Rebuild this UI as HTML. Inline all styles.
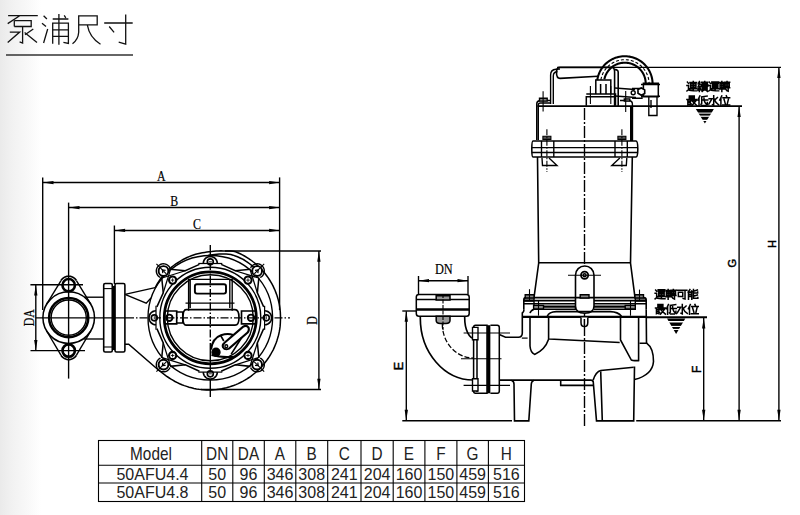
<!DOCTYPE html>
<html><head><meta charset="utf-8">
<style>
html,body{margin:0;padding:0;width:800px;height:515px;overflow:hidden;background:#fff;}
body{font-family:"Liberation Sans",sans-serif;}
#bg{position:absolute;left:0;top:0;width:800px;height:515px;background:linear-gradient(to right,#eaeaea 0px,#f2f2f2 13px,#f8f8f8 27px,#fcfcfc 35px,#fff 41px,#fff 100%);}
svg{position:absolute;left:0;top:0;}
svg text{font-family:"Liberation Sans",sans-serif;}
</style></head><body>
<div id="bg"></div>
<svg width="800" height="515" viewBox="0 0 800 515">
<!-- TITLE -->
<g id="title" fill="none" stroke="#111" stroke-width="1.3" stroke-linecap="butt">
  <!-- 泵 -->
  <path d="M8.1 15.6H37.8 M19.7 15.8L7.7 23.6 M14.3 20.7V26.5 M14.3 20.7H31.2V26.5H14.3 M22.6 26.5V43L19.6 41.8 M9.8 32.1H19.7L7.7 42.6 M33.3 29L25 34.8 M24.6 32.4L37 42.6"/>
  <!-- 浦 -->
  <path d="M43.6 15.8L46.9 19 M42 23.2L46 26.5 M43.6 43L47.7 29 M52.7 19H68.4 M64.2 15.4L65.8 17.8 M52.7 43.8V23.2H68.4V43.4L63.4 42.4 M52.7 29.8H68.4 M52.7 36.4H68.4 M58.9 14.1V44.7"/>
  <!-- 尺 -->
  <path d="M78.7 24.9H97.2V15.8H78.7V32.3Q78.2 39.5 72.5 43.8 M87.3 24.9Q89.5 37.5 100.5 44.2"/>
  <!-- 寸 -->
  <path d="M104.2 23H132.7 M125.7 14.5V44.2L118.7 42.2 M109.2 26.5L114.1 32.3"/>
</g>
<line x1="6" y1="55" x2="133" y2="55" stroke="#333" stroke-width="1.6"/>

<!-- TABLE -->
<g id="table" stroke="#000" stroke-width="1.1" fill="none">
  <rect x="98.5" y="440.5" width="426" height="61"/>
  <line x1="98" y1="465.3" x2="525" y2="465.3"/>
  <line x1="98" y1="483" x2="525" y2="483"/>
  <line x1="201.7" y1="440" x2="201.7" y2="502"/>
  <line x1="232.8" y1="440" x2="232.8" y2="502"/>
  <line x1="264.3" y1="440" x2="264.3" y2="502"/>
  <line x1="295.8" y1="440" x2="295.8" y2="502"/>
  <line x1="327.7" y1="440" x2="327.7" y2="502"/>
  <line x1="361" y1="440" x2="361" y2="502"/>
  <line x1="393.2" y1="440" x2="393.2" y2="502"/>
  <line x1="424.9" y1="440" x2="424.9" y2="502"/>
  <line x1="456.9" y1="440" x2="456.9" y2="502"/>
  <line x1="488.4" y1="440" x2="488.4" y2="502"/>
</g>
<g id="tabletext" fill="#222" font-family="Liberation Sans" font-size="16" text-anchor="middle">
  <text x="151.0" y="459.6" transform="translate(151.0 459.6) scale(0.96 1.1) translate(-151.0 -459.6)">Model</text>
  <text x="217.2" y="459.6" transform="translate(217.2 459.6) scale(0.96 1.1) translate(-217.2 -459.6)">DN</text>
  <text x="248.5" y="459.6" transform="translate(248.5 459.6) scale(0.96 1.1) translate(-248.5 -459.6)">DA</text>
  <text x="280.0" y="459.6" transform="translate(280.0 459.6) scale(0.96 1.1) translate(-280.0 -459.6)">A</text>
  <text x="311.7" y="459.6" transform="translate(311.7 459.6) scale(0.96 1.1) translate(-311.7 -459.6)">B</text>
  <text x="344.3" y="459.6" transform="translate(344.3 459.6) scale(0.96 1.1) translate(-344.3 -459.6)">C</text>
  <text x="377.1" y="459.6" transform="translate(377.1 459.6) scale(0.96 1.1) translate(-377.1 -459.6)">D</text>
  <text x="409.0" y="459.6" transform="translate(409.0 459.6) scale(0.96 1.1) translate(-409.0 -459.6)">E</text>
  <text x="440.9" y="459.6" transform="translate(440.9 459.6) scale(0.96 1.1) translate(-440.9 -459.6)">F</text>
  <text x="472.6" y="459.6" transform="translate(472.6 459.6) scale(0.96 1.1) translate(-472.6 -459.6)">G</text>
  <text x="506.4" y="459.6" transform="translate(506.4 459.6) scale(0.96 1.1) translate(-506.4 -459.6)">H</text>

  <text x="152.5" y="479.9">50AFU4.4</text>
  <text x="217.2" y="479.9">50</text>
  <text x="248.5" y="479.9">96</text>
  <text x="280" y="479.9">346</text>
  <text x="311.7" y="479.9">308</text>
  <text x="344.3" y="479.9">241</text>
  <text x="377.1" y="479.9">204</text>
  <text x="409" y="479.9">160</text>
  <text x="440.9" y="479.9">150</text>
  <text x="472.6" y="479.9">459</text>
  <text x="506.4" y="479.9">516</text>

  <text x="152.5" y="497.9">50AFU4.8</text>
  <text x="217.2" y="497.9">50</text>
  <text x="248.5" y="497.9">96</text>
  <text x="280" y="497.9">346</text>
  <text x="311.7" y="497.9">308</text>
  <text x="344.3" y="497.9">241</text>
  <text x="377.1" y="497.9">204</text>
  <text x="409" y="497.9">160</text>
  <text x="440.9" y="497.9">150</text>
  <text x="472.6" y="497.9">459</text>
  <text x="506.4" y="497.9">516</text>
</g>

<g id="left" fill="none" stroke="#000" stroke-width="1.38"><line x1="42.7" y1="177.5" x2="42.7" y2="310" stroke-width="1.38" /><line x1="279.6" y1="177.4" x2="279.6" y2="310" stroke-width="1.38" /><line x1="68.6" y1="202.6" x2="68.6" y2="378.6" stroke-width="1.38" /><line x1="114.4" y1="225.5" x2="114.4" y2="284" stroke-width="1.38" /><line x1="43" y1="182.5" x2="279.6" y2="182.5" stroke-width="1.38" /><path d="M43 182.6L53.5 180.95L53.5 184.25Z" fill="#000" stroke="none"/><path d="M279.6 182.6L269.1 184.25L269.1 180.95Z" fill="#000" stroke="none"/><line x1="69" y1="207.5" x2="279.6" y2="207.5" stroke-width="1.38" /><path d="M69 207.6L79.5 205.95L79.5 209.25Z" fill="#000" stroke="none"/><path d="M279.6 207.6L269.1 209.25L269.1 205.95Z" fill="#000" stroke="none"/><line x1="114.6" y1="230.5" x2="279.6" y2="230.5" stroke-width="1.38" /><path d="M114.6 230.4L125.1 228.75L125.1 232.05Z" fill="#000" stroke="none"/><path d="M279.6 230.4L269.1 232.05L269.1 228.75Z" fill="#000" stroke="none"/><line x1="225" y1="251" x2="321" y2="251" stroke-width="1.38" /><line x1="201" y1="389.5" x2="321" y2="389.5" stroke-width="1.38" /><line x1="318.9" y1="251" x2="318.9" y2="389.5" stroke-width="1.38" /><path d="M318.9 251.3L320.55 261.8L317.25 261.8Z" fill="#000" stroke="none"/><path d="M318.9 389.2L317.25 378.7L320.55 378.7Z" fill="#000" stroke="none"/><line x1="30.4" y1="284.7" x2="83" y2="284.7" stroke-width="1.38" /><line x1="30.5" y1="350.6" x2="85" y2="350.6" stroke-width="1.38" /><line x1="35.8" y1="285" x2="35.8" y2="350.4" stroke-width="1.38" /><path d="M35.8 285L37.45 295.5L34.15 295.5Z" fill="#000" stroke="none"/><path d="M35.8 350.4L34.15 339.9L37.45 339.9Z" fill="#000" stroke="none"/><line x1="35.8" y1="317.9" x2="126" y2="317.9" stroke-width="1.38" /><line x1="126" y1="317.9" x2="290" y2="317.9" stroke-width="1.38" stroke-dasharray="8 2 1.5 2"/><line x1="210.3" y1="245" x2="210.3" y2="262" stroke-width="1.38" /><line x1="210.3" y1="262" x2="210.3" y2="348" stroke-width="1.38" stroke-dasharray="8 2 1.5 2"/><line x1="210.3" y1="348" x2="210.3" y2="397" stroke-width="1.38" /><line x1="46.64" y1="304.22" x2="61" y2="280.53" stroke-width="1.38" /><line x1="90.76" y1="304.22" x2="76.4" y2="280.53" stroke-width="1.38" /><path d="M61 280.53 L61.71 279.53 L62.55 278.63 L63.5 277.85 L64.55 277.21 L65.68 276.72 L66.87 276.39 L68.09 276.22 L69.31 276.22 L70.53 276.39 L71.72 276.72 L72.85 277.21 L73.9 277.85 L74.85 278.63 L75.69 279.53 L76.4 280.53" stroke-width="1.66"/><circle cx="68.7" cy="285.2" r="6.2" stroke-width="2.62" fill="none" /><line x1="46.49" y1="330.73" x2="60.95" y2="355.18" stroke-width="1.38" /><line x1="90.91" y1="330.73" x2="76.45" y2="355.18" stroke-width="1.38" /><path d="M60.95 355.18 L61.66 356.21 L62.5 357.12 L63.46 357.91 L64.51 358.57 L65.65 359.07 L66.85 359.41 L68.08 359.58 L69.32 359.58 L70.55 359.41 L71.75 359.07 L72.89 358.57 L73.94 357.91 L74.9 357.12 L75.74 356.21 L76.45 355.18" stroke-width="1.66"/><circle cx="68.7" cy="350.6" r="6.2" stroke-width="2.62" fill="none" /><circle cx="68.7" cy="317.6" r="25.8" stroke-width="1.52" fill="none" /><circle cx="68.7" cy="317.6" r="19.6" stroke-width="2.48" fill="none" /><circle cx="68.7" cy="317.6" r="17.6" stroke-width="1.38" fill="none" /><line x1="84" y1="297.2" x2="103.5" y2="297.2" stroke-width="1.38" /><line x1="84" y1="339" x2="103.5" y2="339" stroke-width="1.38" /><rect x="103.7" y="283.5" width="8.6" height="68.5" rx="1.5" stroke-width="1.59"/><line x1="103.5" y1="288.6" x2="112" y2="288.6" stroke-width="1.1" /><line x1="103.5" y1="347" x2="112" y2="347" stroke-width="1.1" /><line x1="113.6" y1="286" x2="113.6" y2="350" stroke-width="3.31" /><rect x="115" y="283.5" width="9.9" height="68.5" rx="1.5" stroke-width="1.59"/><path d="M125 294.4L155.1 287.6 M125.5 294.6L146.2 303.2L151 298"/><path d="M155.4 287.3 L156.4 285.4 L157.5 283.5 L158.7 281.6 L159.9 279.8 L161.2 278.0 L162.6 276.3 L164.0 274.6 L165.5 273.0 L167.0 271.4 L168.6 269.8 L170.2 268.3 L171.9 266.9 L173.7 265.5 L175.5 264.2 L177.4 263.0 L179.2 261.8 L181.2 260.6 L183.1 259.5 L185.1 258.5 L187.1 257.5 L189.2 256.6 L191.3 255.8 L193.5 255.0 L195.6 254.3 L197.8 253.7 L200.1 253.2 L202.3 252.8 L204.6 252.4 L206.9 252.1 L209.1 251.8 L211.5 251.6 L213.8 251.3 L216.1 251.1 L218.5 250.9 L220.9 250.8 L223.3 250.9 L225.7 250.9 L228.2 250.9 L230.7 251.0 L233.2 251.3 L235.6 251.8 L237.9 252.7 L240.2 253.7 L242.4 254.8 L244.5 256.0 L246.7 257.3 L248.7 258.6 L250.8 260.0 L252.7 261.5 L254.7 263.0 L256.5 264.6 L258.3 266.3 L260.1 268.0 L261.8 269.8 L263.4 271.6 L265.0 273.5 L266.5 275.5 L267.9 277.4 L269.3 279.5 L270.6 281.6 L271.8 283.7 L273.0 285.9 L274.0 288.1 L275.0 290.3 L275.9 292.6 L276.8 294.9 L277.5 297.3 L278.2 299.6 L278.8 302.0 L279.3 304.4 L279.7 306.8 L280.0 309.2 L280.3 311.7 L280.4 314.1 L280.5 316.6 L280.5 319.0 L280.4 321.5 L280.3 323.9 L280.1 326.4 L279.8 328.8 L279.4 331.2 L278.9 333.6 L278.3 336.0 L277.6 338.4 L276.9 340.7 L276.1 343.1 L275.2 345.3 L274.2 347.6 L273.2 349.8 L272.0 352.0 L270.8 354.2 L269.5 356.3 L268.2 358.3 L266.8 360.3 L265.3 362.3 L263.7 364.2 L262.1 366.1 L260.4 367.9 L258.6 369.6 L256.8 371.3 L255.0 373.0 L253.1 374.5 L251.1 376.1 L249.1 377.5 L247.0 378.9 L244.9 380.2 L242.7 381.4 L240.5 382.5 L238.2 383.6 L235.9 384.6 L233.6 385.5 L231.3 386.3 L228.9 387.1 L226.5 387.8 L224.0 388.3 L221.6 388.8 L219.1 389.2 L216.6 389.6 L214.1 389.8 L211.6 390.0 L209.0 390.0 L206.5 390.0 L204.0 389.8 L201.5 389.6 L199.0 389.3 L196.5 388.9 L194.0 388.4 L191.5 387.8 L189.1 387.2 L186.7 386.4 L184.3 385.6 L181.9 384.7 L179.6 383.7 L177.3 382.6 L175.0 381.5 L172.8 380.2 L170.6 378.9 L168.5 377.5 L166.4 376.1 L158.4 370 L128.7 344.3 L125 344.3" stroke-width="1.52"/><circle cx="210.3" cy="317.8" r="62.3" stroke-width="1.38" fill="none" /><path d="M208.13 255.54 L210.3 255.08 L212.5 254.71 L214.73 254.4 L216.99 254.18 L219.26 254.04 L221.55 253.98 L223.87 253.98 L226.19 254.05 L228.53 254.21 L230.88 254.46 L233.1 255.15 L235.3 255.93 L237.47 256.78 L239.61 257.7 L241.72 258.7 L243.8 259.78 L245.77 261.04 L247.69 262.37 L249.56 263.76 L251.39 265.21 L253.15 266.73 L254.86 268.31" stroke-width="1.52"/><circle cx="210.3" cy="317.8" r="50.5" stroke-width="1.38" fill="none" /><circle cx="210.3" cy="317.8" r="46" stroke-width="2.76" fill="none" /><circle cx="210.3" cy="317.8" r="43" stroke-width="1.38" fill="none" /><path d="M258.87 358.04L257.36 342.82L263.71 328.67" stroke-width="1.52"/><path d="M250.54 366.37L235.32 364.86L221.17 371.21" stroke-width="1.52"/><line x1="250.34" y1="365.2" x2="257.36" y2="342.82" stroke-width="1.24" /><line x1="257.7" y1="357.84" x2="235.32" y2="364.86" stroke-width="1.24" /><path d="M170.06 366.37L185.28 364.86L199.43 371.21" stroke-width="1.52"/><path d="M161.73 358.04L163.24 342.82L156.89 328.67" stroke-width="1.52"/><line x1="162.9" y1="357.84" x2="185.28" y2="364.86" stroke-width="1.24" /><line x1="170.26" y1="365.2" x2="163.24" y2="342.82" stroke-width="1.24" /><path d="M161.73 277.56L163.24 292.78L156.89 306.93" stroke-width="1.52"/><path d="M170.06 269.23L185.28 270.74L199.43 264.39" stroke-width="1.52"/><line x1="170.26" y1="270.4" x2="163.24" y2="292.78" stroke-width="1.24" /><line x1="162.9" y1="277.76" x2="185.28" y2="270.74" stroke-width="1.24" /><path d="M250.54 269.23L235.32 270.74L221.17 264.39" stroke-width="1.52"/><path d="M258.87 277.56L257.36 292.78L263.71 306.93" stroke-width="1.52"/><line x1="257.7" y1="277.76" x2="235.32" y2="270.74" stroke-width="1.24" /><line x1="250.34" y1="270.4" x2="257.36" y2="292.78" stroke-width="1.24" /><path d="M260.15 358.09 L261.2 358.68 L262.12 359.44 L262.91 360.35 L263.54 361.37 L263.99 362.48 L264.25 363.66 L264.31 364.86 L264.17 366.05 L263.83 367.2 L263.3 368.28 L262.61 369.26 L261.76 370.11 L260.78 370.8 L259.7 371.33 L258.55 371.67 L257.36 371.81 L256.16 371.75 L254.98 371.49 L253.87 371.04 L252.85 370.41 L251.94 369.62 L251.18 368.7 L250.59 367.65" stroke-width="1.38"/><circle cx="257.11" cy="364.61" r="4.9" stroke-width="1.93" fill="#fff" /><line x1="254.28" y1="361.78" x2="264.18" y2="371.68" stroke-width="1.1" /><path d="M255.11 363.61L257.11 366.11L259.11 363.61" stroke-width="1.24" transform="rotate(-45 257.11 364.61)"/><path d="M170.01 367.65 L169.42 368.7 L168.66 369.62 L167.75 370.41 L166.73 371.04 L165.62 371.49 L164.44 371.75 L163.24 371.81 L162.05 371.67 L160.9 371.33 L159.82 370.8 L158.84 370.11 L157.99 369.26 L157.3 368.28 L156.77 367.2 L156.43 366.05 L156.29 364.86 L156.35 363.66 L156.61 362.48 L157.06 361.37 L157.69 360.35 L158.48 359.44 L159.4 358.68 L160.45 358.09" stroke-width="1.38"/><circle cx="163.49" cy="364.61" r="4.9" stroke-width="1.93" fill="#fff" /><line x1="166.32" y1="361.78" x2="156.42" y2="371.68" stroke-width="1.1" /><path d="M161.49 363.61L163.49 366.11L165.49 363.61" stroke-width="1.24" transform="rotate(45 163.49 364.61)"/><path d="M160.45 277.51 L159.4 276.92 L158.48 276.16 L157.69 275.25 L157.06 274.23 L156.61 273.12 L156.35 271.94 L156.29 270.74 L156.43 269.55 L156.77 268.4 L157.3 267.32 L157.99 266.34 L158.84 265.49 L159.82 264.8 L160.9 264.27 L162.05 263.93 L163.24 263.79 L164.44 263.85 L165.62 264.11 L166.73 264.56 L167.75 265.19 L168.66 265.98 L169.42 266.9 L170.01 267.95" stroke-width="1.38"/><circle cx="163.49" cy="270.99" r="4.9" stroke-width="1.93" fill="#fff" /><line x1="166.32" y1="273.82" x2="156.42" y2="263.92" stroke-width="1.1" /><path d="M161.49 269.99L163.49 272.49L165.49 269.99" stroke-width="1.24" transform="rotate(135 163.49 270.99)"/><path d="M250.59 267.95 L251.18 266.9 L251.94 265.98 L252.85 265.19 L253.87 264.56 L254.98 264.11 L256.16 263.85 L257.36 263.79 L258.55 263.93 L259.7 264.27 L260.78 264.8 L261.76 265.49 L262.61 266.34 L263.3 267.32 L263.83 268.4 L264.17 269.55 L264.31 270.74 L264.25 271.94 L263.99 273.12 L263.54 274.23 L262.91 275.25 L262.12 276.16 L261.2 276.92 L260.15 277.51" stroke-width="1.38"/><circle cx="257.11" cy="270.99" r="4.9" stroke-width="1.93" fill="#fff" /><line x1="254.28" y1="273.82" x2="264.18" y2="263.92" stroke-width="1.1" /><path d="M255.11 269.99L257.11 272.49L259.11 269.99" stroke-width="1.24" transform="rotate(225 257.11 270.99)"/><circle cx="247.99" cy="355.49" r="3.6" stroke-width="2.07" fill="#fff" /><line x1="246.19" y1="355.49" x2="249.79" y2="355.49" stroke-width="0.83" /><line x1="247.99" y1="353.69" x2="247.99" y2="357.29" stroke-width="0.83" /><circle cx="172.61" cy="355.49" r="3.6" stroke-width="2.07" fill="#fff" /><line x1="170.81" y1="355.49" x2="174.41" y2="355.49" stroke-width="0.83" /><line x1="172.61" y1="353.69" x2="172.61" y2="357.29" stroke-width="0.83" /><circle cx="172.61" cy="280.11" r="3.6" stroke-width="2.07" fill="#fff" /><line x1="170.81" y1="280.11" x2="174.41" y2="280.11" stroke-width="0.83" /><line x1="172.61" y1="278.31" x2="172.61" y2="281.91" stroke-width="0.83" /><circle cx="247.99" cy="280.11" r="3.6" stroke-width="2.07" fill="#fff" /><line x1="246.19" y1="280.11" x2="249.79" y2="280.11" stroke-width="0.83" /><line x1="247.99" y1="278.31" x2="247.99" y2="281.91" stroke-width="0.83" /><path d="M264.6 310.8 L266.28 311 L267.85 311.6 L269.24 312.56 L270.36 313.82 L271.15 315.32 L271.55 316.96 L271.55 318.64 L271.15 320.28 L270.36 321.78 L269.24 323.04 L267.85 324 L266.28 324.6 L264.6 324.8" stroke-width="1.66" fill="#fff"/><line x1="264.6" y1="305.8" x2="264.6" y2="329.8" stroke-width="1.24" /><circle cx="266.3" cy="317.8" r="3" stroke-width="1.66" fill="none" /><line x1="266.3" y1="316.2" x2="266.3" y2="319.4" stroke-width="0.83" /><path d="M217.3 372.1 L217.1 373.78 L216.5 375.35 L215.54 376.74 L214.28 377.86 L212.78 378.65 L211.14 379.05 L209.46 379.05 L207.82 378.65 L206.32 377.86 L205.06 376.74 L204.1 375.35 L203.5 373.78 L203.3 372.1" stroke-width="1.66" fill="#fff"/><line x1="222.3" y1="372.1" x2="198.3" y2="372.1" stroke-width="1.24" /><circle cx="210.3" cy="373.8" r="3" stroke-width="1.66" fill="none" /><line x1="211.9" y1="373.8" x2="208.7" y2="373.8" stroke-width="0.83" /><path d="M156 324.8 L154.32 324.6 L152.75 324 L151.36 323.04 L150.24 321.78 L149.45 320.28 L149.05 318.64 L149.05 316.96 L149.45 315.32 L150.24 313.82 L151.36 312.56 L152.75 311.6 L154.32 311 L156 310.8" stroke-width="1.66" fill="#fff"/><line x1="156" y1="329.8" x2="156" y2="305.8" stroke-width="1.24" /><circle cx="154.3" cy="317.8" r="3" stroke-width="1.66" fill="none" /><line x1="154.3" y1="319.4" x2="154.3" y2="316.2" stroke-width="0.83" /><path d="M203.3 263.5 L203.5 261.82 L204.1 260.25 L205.06 258.86 L206.32 257.74 L207.82 256.95 L209.46 256.55 L211.14 256.55 L212.78 256.95 L214.28 257.74 L215.54 258.86 L216.5 260.25 L217.1 261.82 L217.3 263.5" stroke-width="1.66" fill="#fff"/><line x1="198.3" y1="263.5" x2="222.3" y2="263.5" stroke-width="1.24" /><circle cx="210.3" cy="261.8" r="3" stroke-width="1.66" fill="none" /><line x1="208.7" y1="261.8" x2="211.9" y2="261.8" stroke-width="0.83" /><circle cx="169.3" cy="317.8" r="3.2" stroke-width="1.93" fill="none" /><circle cx="251" cy="317.8" r="3.2" stroke-width="1.93" fill="none" /><path d="M188.6 310.7V279.4H232.2V310.7 M190.2 280V308 M229.8 280V308" /><rect x="194.9" y="284.3" width="31.1" height="9.3" rx="2" stroke-width="1.93"/><line x1="185.5" y1="303.2" x2="234.5" y2="303.2" stroke-width="1.24" /><path d="M164.5 311H176.7V323.8H164.5 M176.7 312H182.8V323H176.7 M186 309.6H235Q239 309.6 239 317.5Q239 325.2 235 325.2H186Q183 325.2 183 317.5Q183 309.6 186 309.6Z M241.5 311H256V323.8H241.5Z" stroke-width="1.66"/><path d="M211 349.7Q212.5 338 221 335.2Q228 333 233 335 M211.5 355Q222 358 233.8 356.7" stroke-width="2.07"/><path d="M224.5 342.8L243.2 326.6Q246.5 324.6 248.6 327.6Q249.5 330.5 247.6 332.6L229 348.6Q225 350.5 223 347.2Q222 344.5 224.5 342.8Z" stroke-width="2.07" fill="#fff"/><circle cx="226.3" cy="346.2" r="1.4" stroke-width="1.38" fill="none" /><circle cx="216" cy="352.3" r="4" stroke-width="1.38" fill="#000" /><path d="M241.7 337.5L231.2 354.1 M220.7 335.7L223.8 341" stroke-width="1.66"/></g>
<g><text transform="translate(161.2 176) rotate(0) scale(0.82 1)" x="0" y="0" font-family="Liberation Serif" font-size="14.5" text-anchor="middle" dominant-baseline="central" fill="#000" stroke="#000" stroke-width="0.2" style="font-family:'Liberation Serif',serif">A</text><text transform="translate(174.3 200.6) rotate(0) scale(0.82 1)" x="0" y="0" font-family="Liberation Serif" font-size="14.5" text-anchor="middle" dominant-baseline="central" fill="#000" stroke="#000" stroke-width="0.2" style="font-family:'Liberation Serif',serif">B</text><text transform="translate(197 224) rotate(0) scale(0.82 1)" x="0" y="0" font-family="Liberation Serif" font-size="14.5" text-anchor="middle" dominant-baseline="central" fill="#000" stroke="#000" stroke-width="0.2" style="font-family:'Liberation Serif',serif">C</text><text transform="translate(311.7 320.5) rotate(-90) scale(0.85 1)" x="0" y="0" font-family="Liberation Serif" font-size="14" text-anchor="middle" dominant-baseline="central" fill="#000" stroke="#000" stroke-width="0.2" style="font-family:'Liberation Serif',serif">D</text><text transform="translate(28.6 317.8) rotate(-90) scale(0.82 1)" x="0" y="0" font-family="Liberation Serif" font-size="14.5" text-anchor="middle" dominant-baseline="central" fill="#000" stroke="#000" stroke-width="0.2" style="font-family:'Liberation Serif',serif">DA</text></g>
<g id="right" fill="none" stroke="#000" stroke-width="1.38"><line x1="557" y1="67.4" x2="781" y2="67.4" stroke-width="1.38" /><line x1="537.5" y1="106.1" x2="742" y2="106.1" stroke-width="1.66" /><line x1="402.3" y1="311" x2="416.8" y2="311" stroke-width="1.38" /><line x1="646" y1="317.2" x2="707" y2="317.2" stroke-width="1.93" /><line x1="406.3" y1="311.2" x2="406.3" y2="420.2" stroke-width="1.38" /><path d="M406.3 311.2L407.95 321.7L404.65 321.7Z" fill="#000" stroke="none"/><path d="M406.3 420.2L404.65 409.7L407.95 409.7Z" fill="#000" stroke="none"/><line x1="703.7" y1="318" x2="703.7" y2="420.2" stroke-width="1.38" /><path d="M703.7 318L705.35 328.5L702.05 328.5Z" fill="#000" stroke="none"/><path d="M703.7 420.2L702.05 409.7L705.35 409.7Z" fill="#000" stroke="none"/><line x1="739.1" y1="106.6" x2="739.1" y2="420.2" stroke-width="1.38" /><path d="M739.1 106.6L740.75 117.1L737.45 117.1Z" fill="#000" stroke="none"/><path d="M739.1 420.2L737.45 409.7L740.75 409.7Z" fill="#000" stroke="none"/><line x1="778.9" y1="67.6" x2="778.9" y2="420.2" stroke-width="1.38" /><path d="M778.9 67.6L780.55 78.1L777.25 78.1Z" fill="#000" stroke="none"/><path d="M778.9 420.2L777.25 409.7L780.55 409.7Z" fill="#000" stroke="none"/><line x1="418.5" y1="276" x2="418.5" y2="294" stroke-width="1.38" /><line x1="468" y1="276" x2="468" y2="294" stroke-width="1.38" /><line x1="418.5" y1="280.7" x2="468" y2="280.7" stroke-width="1.38" /><path d="M418.5 280.7L429 279.05L429 282.35Z" fill="#000" stroke="none"/><path d="M468 280.7L457.5 282.35L457.5 279.05Z" fill="#000" stroke="none"/><path d="M695.8 109.1H713.9L704.9 123.4Z" fill="#000" stroke="none"/><rect x="694.8" y="112.6" width="20.1" height="1" fill="#fff" stroke="none"/><rect x="694.8" y="115.6" width="20.1" height="1.2" fill="#fff" stroke="none"/><rect x="694.8" y="119.8" width="20.1" height="1.2" fill="#fff" stroke="none"/><path d="M667 318.6H685.3L676.1 333.9Z" fill="#000" stroke="none"/><rect x="666" y="321" width="20.3" height="1.5" fill="#fff" stroke="none"/><rect x="666" y="325.9" width="20.3" height="1.1" fill="#fff" stroke="none"/><rect x="666" y="328.9" width="20.3" height="1.1" fill="#fff" stroke="none"/><line x1="584.5" y1="108" x2="584.5" y2="428" stroke-width="1.38" stroke-dasharray="12 2 2 2"/><path d="M550.6 104V75Q550.6 69.5 556 69.2L560 69 M553.3 104V76Q553.3 71.8 557.5 71.8" stroke-width="1.38"/><path d="M560 67.4H612Q614.6 67.6 614.6 72V106 M618.2 72Q618 69.6 614 69.4 M618.2 72V106 M560 67.4Q556.5 67.4 556.5 72.5Q556.5 78.4 560 78.4L598 76.3" stroke-width="1.59"/><path d="M536.7 140V104Q536.7 101 540 100.5H551 M538.3 140V105Q538.3 103 540.5 103H551" stroke-width="1.38"/><path d="M539.5 98.2H547.2V101.1H539.5Z" fill="#888"/><line x1="543.1" y1="91.2" x2="543.1" y2="111.6" stroke-width="1.1" /><path d="M632.4 140V104Q632.4 101 629 100.5H620" stroke-width="1.38"/><path d="M624.3 98.9H629.8V101.1H624.3Z" fill="#888"/><line x1="625.7" y1="91" x2="625.7" y2="112" stroke-width="1.1" /><path d="M586.3 105.7V96.8H615.5V105.7 M586.3 94H615.5V96.8 M595.8 94V79.9H610.8V94 M600.6 84V94 M606 84V94" stroke-width="1.52"/><line x1="590.4" y1="86" x2="590.4" y2="104" stroke-width="1.1" /><line x1="610.8" y1="86" x2="610.8" y2="104" stroke-width="1.1" /><path d="M597.27 80.13 L597.51 78.71 L597.82 77.31 L598.2 75.92 L598.65 74.55 L599.18 73.21 L599.77 71.9 L600.43 70.62 L601.15 69.38 L601.94 68.18 L602.79 67.02 L603.7 65.9 L604.66 64.83 L605.68 63.82 L606.75 62.86 L607.87 61.95 L609.03 61.1 L610.24 60.32 L611.48 59.6 L612.76 58.94 L614.08 58.35 L615.42 57.83 L616.78 57.38 L618.17 57 L619.58 56.69 L621 56.46 L622.43 56.3 L623.86 56.22 L625.3 56.2 L626.74 56.27 L628.17 56.41 L629.59 56.62 L631 56.9 L632.4 57.26 L633.77 57.69 L635.12 58.19 L636.44 58.76 L637.73 59.39 L638.99 60.09 L640.21 60.86 L641.38 61.69 L642.52 62.58 L643.6 63.52 L644.63 64.52 L645.62 65.57 L646.54 66.67 L647.41 67.82 L648.21 69.01 L648.96 70.25 L649.64 71.51 L650.25 72.82 L650.8 74.15 L651.27 75.5 L651.67 76.89 L652.01 78.29 L652.27 79.7 L652.45 81.13 L652.56 82.56 L652.6 84 M604.36 79.25 L604.61 78.21 L604.91 77.18 L605.27 76.16 L605.68 75.17 L606.13 74.2 L606.64 73.25 L607.2 72.33 L607.8 71.44 L608.45 70.58 L609.14 69.76 L609.87 68.97 L610.64 68.22 L611.45 67.52 L612.3 66.85 L613.18 66.23 L614.09 65.66 L615.02 65.13 L615.98 64.65 L616.97 64.22 L617.98 63.84 L619 63.52 L620.04 63.25 L621.1 63.03 L622.16 62.87 L623.23 62.76 L624.3 62.71 L625.38 62.71 L626.45 62.77 L627.52 62.88 L628.58 63.04 L629.63 63.27 L630.67 63.54 L631.7 63.87 L632.7 64.25 L633.68 64.68 L634.65 65.16 L635.58 65.7 L636.49 66.27 L637.36 66.9 L638.2 67.57 L639.01 68.28 L639.78 69.03 L640.51 69.82 L641.2 70.64 L641.84 71.5 L642.44 72.39 L643 73.32 L643.5 74.27 L643.96 75.24 L644.36 76.24 L644.71 77.25 L645.01 78.28 L645.26 79.33 L645.45 80.39 L645.59 81.45 L645.67 82.53 L645.7 83.6" stroke-width="2.07"/><path d="M600.87 79.78 L601.12 78.54 L601.44 77.32 L601.82 76.11 L602.26 74.92 L602.76 73.76 L603.32 72.63 L603.94 71.53 L604.62 70.46 L605.35 69.43 L606.14 68.44 L606.97 67.49 L607.86 66.58 L608.78 65.72 L609.76 64.92 L610.77 64.16 L611.82 63.46 L612.91 62.81 L614.03 62.22 L615.18 61.69 L616.35 61.22 L617.55 60.81 L618.76 60.46 L620 60.18 L621.24 59.96 L622.5 59.81 L623.76 59.72 L625.02 59.7 L626.29 59.75 L627.55 59.86 L628.8 60.03 L630.04 60.27 L631.27 60.58 L632.48 60.95 L633.67 61.38 L634.83 61.87 L635.97 62.42 L637.08 63.03 L638.15 63.7 L639.19 64.42 L640.19 65.2 L641.15 66.02 L642.06 66.9 L642.93 67.82 L643.75 68.78 L644.51 69.79 L645.22 70.83 L645.88 71.91 L646.48 73.03 L647.02 74.17 L647.5 75.34 L647.92 76.53 L648.28 77.75 L648.58 78.98 L648.8 80.22 L648.97 81.47 L649.07 82.74 L649.1 84" stroke-width="1.1" stroke-dasharray="3 2"/><path d="M643.4 83.3H658.3V96.8H643.4Z M641 84.6H660 M641 96.2H660" stroke-width="1.52"/><path d="M614.8 88L635 89.5 M614.8 96L636 97.5 M632 88.5H642V98.2H632" stroke-width="1.38"/><circle cx="633.2" cy="92.8" r="2" stroke-width="1.38" fill="none" /><path d="M638 89.4L641.3 88L644.7 89.9V93.5L641.3 95.2L638 93.3Z" fill="#fff" stroke-width="1.66"/><path d="M648.8 97V115.5H657V97 M651 100V108" stroke-width="1.38"/><path d="M632.3 106V141 M630.8 106V141 M537.5 157L538.7 263L534 297.6 M632.3 157L630.5 263L635 297.6" stroke-width="1.59"/><path d="M533 141H636Q637.8 141 637.8 149Q637.8 157 636 157H533Q531.8 157 531.8 149Q531.8 141 533 141Z" stroke-width="1.59"/><line x1="532" y1="147.6" x2="637.5" y2="147.6" stroke-width="1.38" /><line x1="532" y1="152.5" x2="637.5" y2="152.5" stroke-width="1.38" /><path d="M542.9 136.2H550.9V139.4H542.9Z" fill="#555" stroke-width="1.1"/><line x1="546.9" y1="129.3" x2="546.9" y2="172" stroke-width="1.1" stroke-dasharray="6 1.5 1.5 1.5"/><path d="M617.9 136.2H625.9V139.4H617.9Z" fill="#555" stroke-width="1.1"/><line x1="621.9" y1="129.3" x2="621.9" y2="172" stroke-width="1.1" stroke-dasharray="6 1.5 1.5 1.5"/><path d="M541.5 141V157 M553.8 141V157 M542 158L542.5 165.5H557L549 158" stroke-width="1.38"/><path d="M627.3 141V157 M615 141V157 M626.8 158L626.3 165.5H611.8L619.8 158" stroke-width="1.38"/><line x1="538.7" y1="262.8" x2="630.5" y2="262.8" stroke-width="1.38" /><path d="M575.5 310V275.2A9.25 9.25 0 0 1 594 275.2V306Q594 313.2 584.75 313.2Q575.5 313.2 575.5 306" stroke-width="1.59" fill="#fff"/><circle cx="584.6" cy="275.2" r="3.6" stroke-width="1.79" fill="none" /><circle cx="584.6" cy="275.2" r="1.5" stroke-width="1.38" fill="none" /><line x1="568" y1="275.2" x2="601" y2="275.2" stroke-width="1.1" /><path d="M526 297.6H643.5Q646.2 297.6 646.2 300V309.2 M526 297.6Q523.8 297.6 523.8 300V309.2 M523.8 300.6H575.5 M594 300.6H646.2" stroke-width="1.59"/><path d="M523.8 303.8H575.5 M594 303.8H646.2 M534 309.2H575.5 M594 309.2H636" stroke-width="1.52"/><path d="M533.8 306.7H575.5 M594 306.7H635.3" stroke-width="2.21"/><path d="M523.8 300.6H534 M636 300.6H646.2" stroke-width="2.21"/><path d="M534 297.6V309.2 M635.3 297.6V309.2" stroke-width="1.38"/><path d="M525.2 294.8H534V298H525.2Z M635 294.8H643.5V298H635Z M580.2 294.8H589V298H580.2Z M533.6 305.4H543.5V309H533.6Z M625.2 305.4H635.3V309H625.2Z" fill="#888" stroke-width="1.38"/><line x1="529.5" y1="289.2" x2="529.5" y2="300" stroke-width="1.1" /><line x1="639.5" y1="289.6" x2="639.5" y2="300" stroke-width="1.1" /><line x1="538.5" y1="300" x2="538.5" y2="315.7" stroke-width="1.1" /><line x1="630.5" y1="300" x2="630.5" y2="315.7" stroke-width="1.1" /><line x1="522.3" y1="316.9" x2="646.5" y2="316.9" stroke-width="2.21" /><path d="M523.8 309.2V311Q523 312.5 522.3 313V333Q522.3 337.2 518.3 337.2H505.5L499.3 334.5 M534 309.2Q530.5 310.5 530 313.2 M547.3 316.2Q549 311.8 556.3 311.6H610.3Q618 311.8 621.5 316.2 M646.2 309.2L646.5 344" stroke-width="1.59"/><path d="M530 316.9V346Q530.5 352.5 534.6 354.4Q545 350 548.6 339.3V316.9 M549.3 339L619.7 342.5 M620.5 316.9V340L631.2 359.8Q632.5 360.8 638.6 360.6V316.9" stroke-width="1.59"/><path d="M639.5 343.3H646.9Q653.5 348 653.5 361.5Q652.5 375 634.5 379.6 M600.7 370.5L633.7 367.2 M499.3 380.1H590.5Q593.2 380.1 593.2 382 M560.7 380.1V385.4H593.2 M600.7 370.5Q596 371.5 593.2 380" stroke-width="1.59"/><path d="M511.5 380.4Q514 381 514 384L514.5 420.9H528.8L531.3 384Q531.5 381 533.8 380.4 M593.2 381.2L596.5 420.9H633.7L634.5 366.4 M600.7 371.4L602.3 420.9" stroke-width="1.59"/><path d="M402.3 420.7H512 M636.2 420.7H781" stroke-width="1.59"/><path d="M581 317.6V322.5Q581 326.6 584.4 326.6Q587.8 326.6 587.8 322.5V317.6 M584.4 319V326" stroke-width="1.52" fill="#fff"/><path d="M521.8 338.1H527.6" stroke-width="1.24"/><path d="M419 294.4H466.5Q469.2 294.4 469.2 297V313.5Q469.2 316.3 466.5 316.3H419Q416.3 316.3 416.3 313.5V297Q416.3 294.4 419 294.4Z M416.3 299.5H469.2" stroke-width="1.52"/><line x1="416.3" y1="309.6" x2="469.2" y2="309.6" stroke-width="2.48" /><path d="M436.2 295.8H450V300.1H436.2Z M436.2 316.3H450V320.5Q450 323.4 446 323.4H440.2Q436.2 323.4 436.2 320.5Z" fill="#999" stroke-width="1.52"/><path d="M420.3 316.3V318A53 62 0 0 0 473.6 380 M464.7 316.3V318A10 20.6 0 0 0 474.7 338.6" stroke-width="1.66"/><path d="M442.3 324A31 34 0 0 0 473.3 358" stroke-width="1.24" stroke-dasharray="5 2"/><line x1="443" y1="294" x2="443" y2="330" stroke-width="1.1" stroke-dasharray="4 1.5"/><path d="M475.5 325.2H487V393.3H475.5Q473.6 393.3 473.6 391V327.5Q473.6 325.2 475.5 325.2Z M490.4 325.2H497.3Q499.3 325.2 499.3 327.5V391Q499.3 393.3 497.3 393.3H490.4 M477 327V392" stroke-width="1.52"/><line x1="488.7" y1="325.2" x2="488.7" y2="393.3" stroke-width="3.31" /><path d="M472.5 327.4H478V339.7H472.5Z M472.5 378.8H478V391H472.5Z" fill="#fff" stroke-width="1.38"/><line x1="463.6" y1="333" x2="510" y2="333" stroke-width="1.1" /><line x1="463.6" y1="385.4" x2="510" y2="385.4" stroke-width="1.1" /><line x1="461" y1="358.7" x2="501.5" y2="358.7" stroke-width="1.1" /></g>
<text transform="translate(443.8 269.3) rotate(0) scale(0.85 1)" x="0" y="0" font-family="Liberation Serif" font-size="14.5" text-anchor="middle" dominant-baseline="central" fill="#000" stroke="#000" stroke-width="0.2" style="font-family:'Liberation Serif',serif">DN</text><g fill="#000" font-size="12" stroke="#000" stroke-width="0.45"><text x="398.8" y="366" font-size="12.5" text-anchor="middle" dominant-baseline="central" transform="rotate(-90 398.8 366)" fill="#000" stroke="#000" stroke-width="0.45">E</text><text x="696.8" y="369.4" font-size="12" text-anchor="middle" dominant-baseline="central" transform="rotate(-90 696.8 369.4)" fill="#000" stroke="#000" stroke-width="0.45">F</text><text x="732.3" y="263.3" font-size="11" text-anchor="middle" dominant-baseline="central" transform="rotate(-90 732.3 263.3)" fill="#000" stroke="#000" stroke-width="0.45">G</text><text x="771.5" y="244" font-size="11" text-anchor="middle" dominant-baseline="central" transform="rotate(-90 771.5 244)" fill="#000" stroke="#000" stroke-width="0.45">H</text></g><g fill="none" stroke="#000" stroke-linecap="square"><path transform="translate(686.60 81.30) scale(1.04 1.03)" d="M0.8 0.8L1.8 2 M0.3 4H1.8V8.2L0.3 9.4 M1.8 8.4Q3 9.3 9.8 9.3 M3.2 1.2H9.6 M6.4 0.2V8.6 M3.8 2.6H9V6H3.8Z M3.8 4.3H9 M3 7.3H9.8" stroke-width="1.44"/><path transform="translate(697.55 81.30) scale(1.04 1.03)" d="M1.8 0.3L0.6 2.6L2.6 3.4 M2.4 1.6L0.5 5.2H3 M1.7 5.2V9.8 M0.5 7L0.3 8.6 M2.8 7L3.2 8.4 M4 1H9.8 M6.9 0.2V2.4 M4.4 2.4H9.4 M4 3.3H9.8V4.8H4Z M5.6 3.3V4.8 M7.9 3.3V4.8 M4.6 5.4H9.2V8.4H4.6Z M4.6 6.4H9.2 M4.6 7.4H9.2 M5.5 8.8L4.4 9.8 M8.3 8.8L9.6 9.8" stroke-width="1.44"/><path transform="translate(708.50 81.30) scale(1.04 1.03)" d="M0.8 0.8L1.8 2 M0.3 4H1.8V8.2L0.3 9.4 M1.8 8.4Q3 9.3 9.8 9.3 M3.2 1.4V0.6H9.6V1.4 M3.4 2H9.4 M6.4 1.6V8.6 M3.8 3H9V6H3.8Z M3.8 4.5H9 M3 7.2H9.8" stroke-width="1.44"/><path transform="translate(719.45 81.30) scale(1.04 1.03)" d="M0.3 1.2H4.4 M2.3 0.2V9.8 M0.6 2.5H4V6H0.6Z M0.6 4.2H4 M0.2 7.4H4.6 M5 1H9.8 M7.3 0.2V6 M5.3 2H9.4V5.2H5.3Z M5.3 3.6H9.4 M5 6.2H9.8 M8.4 5.6V9.6L7.4 9.2 M5.8 7.4L6.6 8.4" stroke-width="1.44"/></g><g fill="none" stroke="#000" stroke-linecap="square"><path transform="translate(686.60 95.60) scale(1.04 1.03)" d="M2.6 0.4H7.4V3H2.6Z M2.6 1.7H7.4 M0.3 3.8H9.7 M1.2 3.8V9.2L4.4 8.2 M3.6 3.8V9.2 M1.2 5.5H3.6 M1.2 7H3.6 M5 5H9L5.2 9.6 M5.8 5.8L9.8 9.6" stroke-width="1.44"/><path transform="translate(697.55 95.60) scale(1.04 1.03)" d="M2.2 0.3L0.3 4.4 M1.4 2.6V9.8 M9.2 0.4L4 1.2V7.8L3.2 8.4 M4 4.2H9.8 M6.2 1V3.6Q7 8 9.8 9 M9.4 6.8V8.6 M4.2 9.6H8" stroke-width="1.44"/><path transform="translate(708.50 95.60) scale(1.04 1.03)" d="M5 0.2V9.4L3.8 8.8 M0.6 3H3.4L0.3 8.2 M8.6 1.8L5.8 4.4 M5.4 3.4Q7 7.2 9.8 9" stroke-width="1.44"/><path transform="translate(719.45 95.60) scale(1.04 1.03)" d="M2.2 0.3L0.3 4.4 M1.4 2.6V9.8 M6.6 0.2L7.2 1.6 M3.4 2.2H9.8 M4.4 3.6L5.6 7.8 M8.6 3.6L7.6 7.8 M3.2 9.2H9.8" stroke-width="1.44"/></g><g fill="none" stroke="#000" stroke-linecap="square"><path transform="translate(654.80 289.20) scale(1.04 1.03)" d="M0.8 0.8L1.8 2 M0.3 4H1.8V8.2L0.3 9.4 M1.8 8.4Q3 9.3 9.8 9.3 M3.2 1.4V0.6H9.6V1.4 M3.4 2H9.4 M6.4 1.6V8.6 M3.8 3H9V6H3.8Z M3.8 4.5H9 M3 7.2H9.8" stroke-width="1.44"/><path transform="translate(665.75 289.20) scale(1.04 1.03)" d="M0.3 1.2H4.4 M2.3 0.2V9.8 M0.6 2.5H4V6H0.6Z M0.6 4.2H4 M0.2 7.4H4.6 M5 1H9.8 M7.3 0.2V6 M5.3 2H9.4V5.2H5.3Z M5.3 3.6H9.4 M5 6.2H9.8 M8.4 5.6V9.6L7.4 9.2 M5.8 7.4L6.6 8.4" stroke-width="1.44"/><path transform="translate(676.70 289.20) scale(1.04 1.03)" d="M0.3 1H9.8 M1.6 3H5.8V7H1.6Z M8 1V9.6L6.2 9 " stroke-width="1.44"/><path transform="translate(687.65 289.20) scale(1.04 1.03)" d="M2.2 0.2L0.6 2.6H4.2L3.8 1.6 M0.8 3.4H4V9.8 M0.8 3.4V9.8 M0.8 5.4H4 M0.8 7.2H4 M5.6 0.4V3.6H9.6V2.8 M9.4 0.8L5.6 2 M5.6 5V8.8H9.8V8 M9.4 5.6L5.6 6.8" stroke-width="1.44"/></g><g fill="none" stroke="#000" stroke-linecap="square"><path transform="translate(655.20 304.20) scale(1.04 1.03)" d="M2.6 0.4H7.4V3H2.6Z M2.6 1.7H7.4 M0.3 3.8H9.7 M1.2 3.8V9.2L4.4 8.2 M3.6 3.8V9.2 M1.2 5.5H3.6 M1.2 7H3.6 M5 5H9L5.2 9.6 M5.8 5.8L9.8 9.6" stroke-width="1.44"/><path transform="translate(666.15 304.20) scale(1.04 1.03)" d="M2.2 0.3L0.3 4.4 M1.4 2.6V9.8 M9.2 0.4L4 1.2V7.8L3.2 8.4 M4 4.2H9.8 M6.2 1V3.6Q7 8 9.8 9 M9.4 6.8V8.6 M4.2 9.6H8" stroke-width="1.44"/><path transform="translate(677.10 304.20) scale(1.04 1.03)" d="M5 0.2V9.4L3.8 8.8 M0.6 3H3.4L0.3 8.2 M8.6 1.8L5.8 4.4 M5.4 3.4Q7 7.2 9.8 9" stroke-width="1.44"/><path transform="translate(688.05 304.20) scale(1.04 1.03)" d="M2.2 0.3L0.3 4.4 M1.4 2.6V9.8 M6.6 0.2L7.2 1.6 M3.4 2.2H9.8 M4.4 3.6L5.6 7.8 M8.6 3.6L7.6 7.8 M3.2 9.2H9.8" stroke-width="1.44"/></g>
</svg>
</body></html>
